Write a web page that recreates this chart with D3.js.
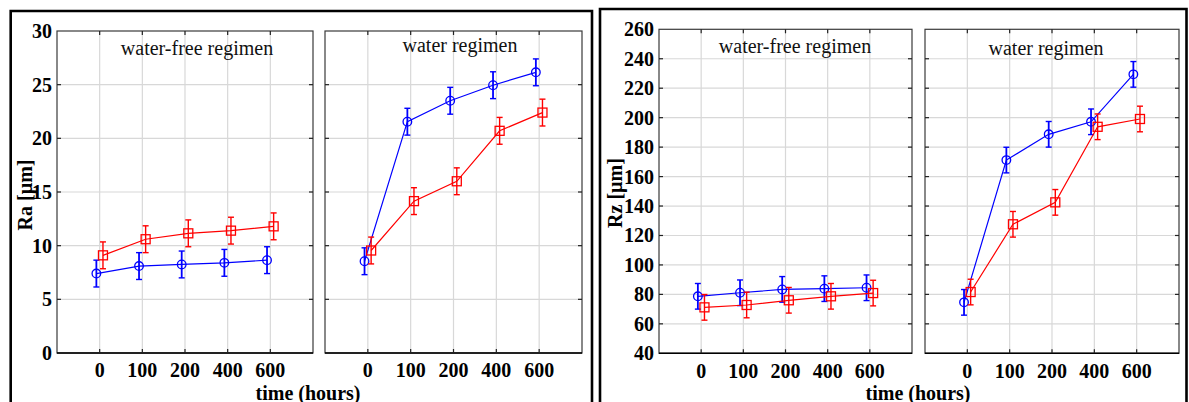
<!DOCTYPE html>
<html>
<head>
<meta charset="utf-8">
<script src="https://cdn.jsdelivr.net/npm/d3@7"></script>
<style>
  html, body { margin: 0; padding: 0; background: #fff; }
  svg { display: block; }
</style>
</head>
<body>
<svg id="chart" width="1189" height="402"></svg>
<script>
// ---------- data ----------
const categories = ["0", "100", "200", "400", "600"];
const panelTitles = ["water-free regimen", "water regimen"];

// Ra [µm]
const raTicks = [0, 5, 10, 15, 20, 25, 30];
const raFreeBlue  = [7.4, 8.1, 8.25, 8.4, 8.65];
const raFreeRed   = [9.1, 10.6, 11.15, 11.4, 11.8];
const raWaterBlue = [8.55, 21.55, 23.5, 24.95, 26.15];
const raWaterRed  = [9.55, 14.15, 16.0, 20.7, 22.4];
const raErrBlue   = [1.25, 1.25, 1.25, 1.25, 1.25];
const raErrRed    = [1.25, 1.25, 1.25, 1.25, 1.25];

// Rz [µm]
const rzTicks = [40, 60, 80, 100, 120, 140, 160, 180, 200, 220, 240, 260];
const rzFreeBlue  = [78.7, 81.1, 83.4, 83.9, 84.5];
const rzFreeRed   = [71.2, 72.8, 76.0, 78.7, 80.9];
const rzWaterBlue = [74.6, 171.2, 188.7, 197.2, 229.4];
const rzWaterRed  = [81.6, 127.6, 142.5, 193.8, 199.1];
const rzErrBlue   = [8.7, 8.7, 8.7, 8.7, 8.7];
const rzErrRed    = [8.7, 8.7, 8.7, 8.7, 8.7];

// ---------- drawing ----------
const svg = d3.select("#chart");
const BLUE = "#0000ff", RED = "#ff0000";
const FONT = "'Liberation Serif', 'Times New Roman', Tinos, serif";

function txt(sel) {
  return sel.style("font-family", FONT);
}

function drawFigure(cfg) {
  const g = svg.append("g");
  // outer figure border (left, top, right)
  g.append("path")
    .attr("d", `M${cfg.border.x0},402 V${cfg.border.y0} H${cfg.border.x1} V402`)
    .attr("fill", "none").attr("stroke", "#000").attr("stroke-width", 2.6);

  const y = d3.scaleLinear().domain([cfg.ticks[0], cfg.ticks[cfg.ticks.length - 1]])
    .range([cfg.yBottom, cfg.yTop]);

  cfg.panels.forEach((p, pi) => {
    const w = p.x1 - p.x0;
    const x = d3.scalePoint().domain(categories).range([p.x0 + w / 6, p.x1 - w / 6]);
    const pg = g.append("g");

    // gridlines
    pg.append("g").selectAll("line").data(cfg.ticks.slice(1, -1)).join("line")
      .attr("x1", p.x0).attr("x2", p.x1)
      .attr("y1", d => y(d)).attr("y2", d => y(d))
      .attr("stroke", "#d8d8d8").attr("stroke-width", 1.2);
    pg.append("g").selectAll("line").data(categories).join("line")
      .attr("x1", d => x(d)).attr("x2", d => x(d))
      .attr("y1", cfg.yTop).attr("y2", cfg.yBottom)
      .attr("stroke", "#d8d8d8").attr("stroke-width", 1.2);

    // frame
    pg.append("rect").attr("x", p.x0).attr("y", cfg.yTop)
      .attr("width", w).attr("height", cfg.yBottom - cfg.yTop)
      .attr("fill", "none").attr("stroke", "#3a3a3a").attr("stroke-width", 1.2);
    pg.append("line").attr("x1", p.x0).attr("x2", p.x1)
      .attr("y1", cfg.yBottom).attr("y2", cfg.yBottom)
      .attr("stroke", "#000").attr("stroke-width", 1.6);

    // inner ticks on all sides
    const tk = 4;
    pg.append("g").selectAll("line").data(cfg.ticks.slice(1, -1)).join("line")
      .attr("x1", p.x0).attr("x2", p.x0 + tk).attr("y1", d => y(d)).attr("y2", d => y(d))
      .attr("stroke", "#222").attr("stroke-width", 1.2);
    pg.append("g").selectAll("line").data(cfg.ticks.slice(1, -1)).join("line")
      .attr("x1", p.x1 - tk).attr("x2", p.x1).attr("y1", d => y(d)).attr("y2", d => y(d))
      .attr("stroke", "#222").attr("stroke-width", 1.2);
    pg.append("g").selectAll("line").data(categories).join("line")
      .attr("x1", d => x(d)).attr("x2", d => x(d)).attr("y1", cfg.yTop).attr("y2", cfg.yTop + tk)
      .attr("stroke", "#222").attr("stroke-width", 1.2);
    pg.append("g").selectAll("line").data(categories).join("line")
      .attr("x1", d => x(d)).attr("x2", d => x(d)).attr("y1", cfg.yBottom - tk).attr("y2", cfg.yBottom)
      .attr("stroke", "#222").attr("stroke-width", 1.2);

    // x tick labels
    txt(pg.append("g").selectAll("text").data(categories).join("text")
      .attr("x", d => x(d)).attr("y", cfg.yBottom + 24.3)
      .attr("text-anchor", "middle").attr("font-size", 20).attr("font-weight", "bold")
      .text(d => d));

    // y tick labels for first panel
    if (pi === 0) {
      txt(pg.append("g").selectAll("text").data(cfg.ticks).join("text")
        .attr("x", p.x0 - 5).attr("y", d => y(d) + 7)
        .attr("text-anchor", "end").attr("font-size", 20).attr("font-weight", "bold")
        .text(d => d));
    }

    // panel title
    txt(pg.append("text").attr("x", p.titleX).attr("y", p.titleY)
      .attr("text-anchor", "middle").attr("font-size", 20)
      .attr("fill", "#111").text(panelTitles[pi]));

    // series
    const series = [
      { vals: p.blue, err: p.errBlue, color: BLUE, dx: -3.3, shape: "circle" },
      { vals: p.red,  err: p.errRed,  color: RED,  dx:  3.3, shape: "square" }
    ];
    series.forEach(s => {
      const pts = s.vals.map((v, i) => ({ c: categories[i], v, e: s.err[i] }));
      const sg = pg.append("g");
      sg.append("path").datum(pts)
        .attr("d", d3.line().x(d => x(d.c) + s.dx).y(d => y(d.v)))
        .attr("fill", "none").attr("stroke", s.color).attr("stroke-width", 1.2);
      // error bars
      sg.append("g").selectAll("line").data(pts).join("line")
        .attr("x1", d => x(d.c) + s.dx).attr("x2", d => x(d.c) + s.dx)
        .attr("y1", d => y(d.v - d.e)).attr("y2", d => y(d.v + d.e))
        .attr("stroke", s.color).attr("stroke-width", s.shape === "circle" ? 1.8 : 1.4);
      ["lo", "hi"].forEach(k => {
        sg.append("g").selectAll("line").data(pts).join("line")
          .attr("x1", d => x(d.c) + s.dx - 3).attr("x2", d => x(d.c) + s.dx + 3)
          .attr("y1", d => y(k === "lo" ? d.v - d.e : d.v + d.e))
          .attr("y2", d => y(k === "lo" ? d.v - d.e : d.v + d.e))
          .attr("stroke", s.color).attr("stroke-width", 1.4);
      });
      if (s.shape === "circle") {
        sg.append("g").selectAll("circle").data(pts).join("circle")
          .attr("cx", d => x(d.c) + s.dx).attr("cy", d => y(d.v)).attr("r", 4.3)
          .attr("fill", "none").attr("stroke", s.color).attr("stroke-width", 1.3);
      } else {
        sg.append("g").selectAll("rect").data(pts).join("rect")
          .attr("x", d => x(d.c) + s.dx - 4.5).attr("y", d => y(d.v) - 4.5)
          .attr("width", 9).attr("height", 9)
          .attr("fill", "none").attr("stroke", s.color).attr("stroke-width", 1.3);
      }
    });
  });

  // y axis label
  txt(g.append("text")
    .attr("transform", `translate(${cfg.yLabelX},${cfg.yLabelY}) rotate(-90)`)
    .attr("text-anchor", "middle").attr("font-size", 20).attr("font-weight", "bold")
    .text(cfg.yLabel));

  // x axis label
  txt(g.append("text").attr("x", cfg.xLabelX).attr("y", 399.5)
    .attr("text-anchor", "middle").attr("font-size", 20).attr("font-weight", "bold")
    .text("time (hours)"));
}

drawFigure({
  border: { x0: 10.7, y0: 11, x1: 592 },
  ticks: raTicks, yTop: 31, yBottom: 353,
  yLabel: "Ra [µm]", yLabelX: 32, yLabelY: 195,
  xLabelX: 308,
  panels: [
    { x0: 57, x1: 313, titleX: 197, titleY: 55,
      blue: raFreeBlue, red: raFreeRed, errBlue: raErrBlue, errRed: raErrRed },
    { x0: 325, x1: 582, titleX: 460, titleY: 52,
      blue: raWaterBlue, red: raWaterRed, errBlue: raErrBlue, errRed: raErrRed }
  ]
});

drawFigure({
  border: { x0: 600, y0: 9, x1: 1186.5 },
  ticks: rzTicks, yTop: 29.3, yBottom: 353.3,
  yLabel: "Rz [µm]", yLabelX: 622, yLabelY: 193,
  xLabelX: 918,
  panels: [
    { x0: 659, x1: 912, titleX: 795, titleY: 53,
      blue: rzFreeBlue, red: rzFreeRed, errBlue: rzErrBlue, errRed: rzErrRed },
    { x0: 925, x1: 1179, titleX: 1046, titleY: 55,
      blue: rzWaterBlue, red: rzWaterRed, errBlue: rzErrBlue, errRed: rzErrRed }
  ]
});
</script>
</body>
</html>
